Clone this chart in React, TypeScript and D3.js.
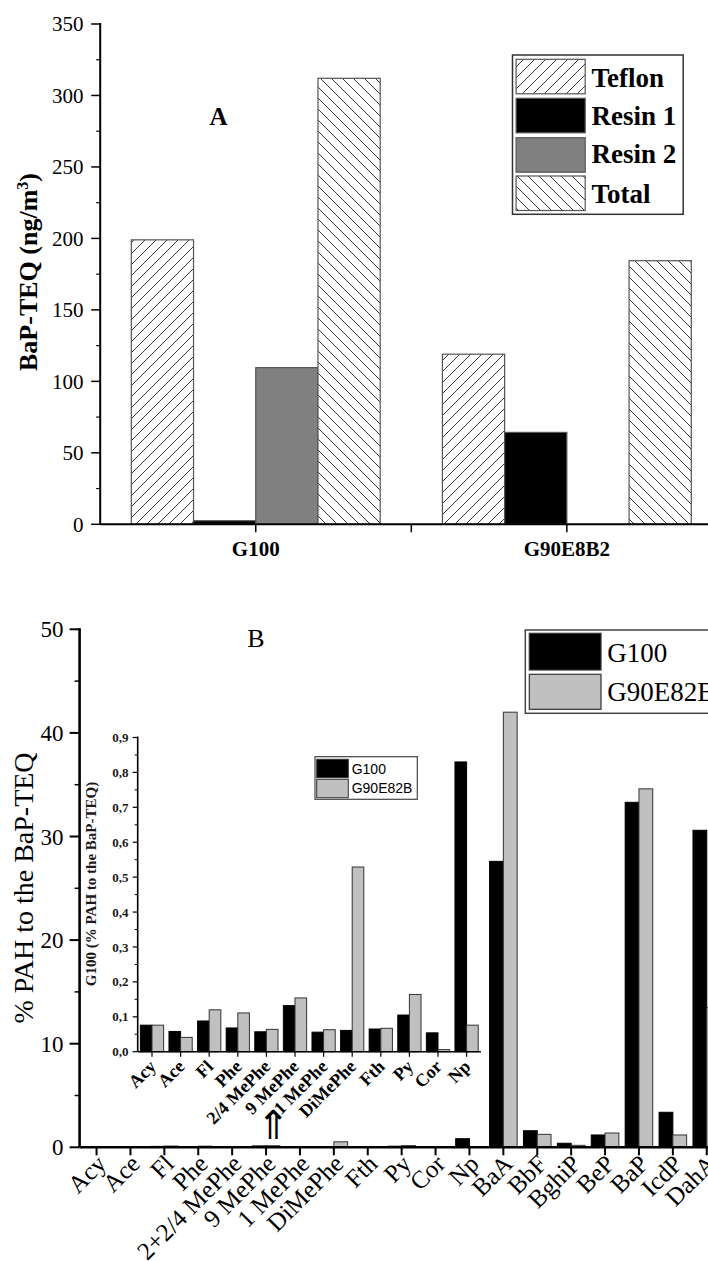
import React from 'react';
import * as d3 from 'd3';

const W = 708;
const H = 1261;
const SERIF = "'Liberation Serif', 'Times New Roman', Times, serif";
const SANS = "'Liberation Sans', Arial, sans-serif";

// ---------- Panel A data ----------
const samplesA = ['G100', 'G90E8B2'];
const seriesA = ['Teflon', 'Resin 1', 'Resin 2', 'Total'];
const teflonA = [199, 119];
const resin1A = [2.5, 64.3];
const resin2A = [109.6, 0];
const totalA = [312, 184.4];
const ticksA = [0, 50, 100, 150, 200, 250, 300, 350];
const minorTicksA = [25, 75, 125, 175, 225, 275, 325];

// ---------- Panel B data ----------
const pahCategories = ['Acy', 'Ace', 'Fl', 'Phe', '2+2/4 MePhe', '9 MePhe', '1 MePhe', 'DiMePhe', 'Fth', 'Py', 'Cor', 'Np', 'BaA', 'BbF', 'BghiP', 'BeP', 'BaP', 'IcdP', 'DahA'];
const g100Values = [0.076, 0.058, 0.088, 0.068, 0.057, 0.132, 0.056, 0.061, 0.065, 0.105, 0.054, 0.83, 27.6, 1.6, 0.39, 1.19, 33.3, 3.38, 30.6];
const g90Values = [0.076, 0.041, 0.12, 0.111, 0.064, 0.154, 0.063, 0.529, 0.067, 0.164, 0.006, 0.076, 42.0, 1.25, 0.19, 1.38, 34.6, 1.19, 13.5];
const seriesB = ['G100', 'G90E82B'];
const ticksB = [0, 10, 20, 30, 40, 50];
const minorTicksB = [5, 15, 25, 35, 45];

const insetCategories = ['Acy', 'Ace', 'Fl', 'Phe', '2/4 MePhe', '9 MePhe', '1 MePhe', 'DiMePhe', 'Fth', 'Py', 'Cor', 'Np'];
const insetTicks = [0, 0.1, 0.2, 0.3, 0.4, 0.5, 0.6, 0.7, 0.8, 0.9];
const insetMinorTicks = [0.05, 0.15, 0.25, 0.35, 0.45, 0.55, 0.65, 0.75, 0.85];

export default function App() {
  // ----- Panel A scales -----
  const yA = d3.scaleLinear().domain([0, 350]).range([524.3, 24]);
  const xA = d3.scaleBand<string>().domain(samplesA).range([100.2, 722.4]).padding(0);
  const xsA = d3.scaleBand<string>().domain(seriesA).range([0, xA.bandwidth()]).paddingInner(0).paddingOuter(0.5);
  const valuesA = [teflonA, resin1A, resin2A, totalA];
  const fillsA = ['url(#hatchFwd)', '#000', '#808080', 'url(#hatchBack)'];

  // ----- Panel B scales -----
  const yB = d3.scaleLinear().domain([0, 50]).range([1147.3, 629.3]);
  const xB = d3.scaleBand<string>().domain(pahCategories).range([79.6, 79.6 + 19 * 33.9]).padding(0);
  const xsB = d3.scaleBand<string>().domain(seriesB).range([0, xB.bandwidth()]).paddingInner(0).paddingOuter(0.23);
  const valuesB = [g100Values, g90Values];
  const fillsB = ['#000', '#c0c0c0'];

  // ----- Inset scales -----
  const yI = d3.scaleLinear().domain([0, 0.9]).range([1051.7, 737.5]);
  const xI = d3.scaleBand<string>().domain(insetCategories).range([137.7, 137.7 + 12 * 28.6]).padding(0);
  const xsI = d3.scaleBand<string>().domain(seriesB).range([0, xI.bandwidth()]).paddingInner(0).paddingOuter(0.23);
  const fmtI = (d: number) => d3.format('.1f')(d).replace('.', ',');

  const axisA = 100.2;
  const baseA = yA(0);
  const axisB = 79.6;
  const baseB = yB(0);
  const axisI = 137.7;
  const baseI = yI(0);

  return (
    <svg width={W} height={H} style={{ position: 'absolute', left: 0, top: 0, background: '#fff' }}>
      <defs>
        <pattern id="hatchFwd" patternUnits="userSpaceOnUse" width={11} height={11}>
          <rect width={11} height={11} fill="#fff" />
          <path d="M-1,1 l2,-2 M0,11 l11,-11 M10,12 l2,-2" stroke="#222" strokeWidth={0.9} />
        </pattern>
        <pattern id="hatchBack" patternUnits="userSpaceOnUse" width={11} height={11}>
          <rect width={11} height={11} fill="#fff" />
          <path d="M-1,10 l2,2 M0,0 l11,11 M10,-1 l2,2" stroke="#222" strokeWidth={0.9} />
        </pattern>
      </defs>
      <rect x={0} y={0} width={W} height={H} fill="#fff" />

      {/* ================= PANEL A ================= */}
      {valuesA.map((vals, si) =>
        vals.map((v, ci) =>
          v > 0 ? (
            <rect
              key={`a-${si}-${ci}`}
              x={(xA(samplesA[ci]) as number) + (xsA(seriesA[si]) as number)}
              y={yA(v)}
              width={xsA.bandwidth()}
              height={baseA - yA(v)}
              fill={fillsA[si]}
              stroke="#555"
              strokeWidth={1.2}
            />
          ) : null
        )
      )}
      {/* y axis A */}
      <line x1={axisA} x2={axisA} y1={yA(350) - 1} y2={baseA} stroke="#000" strokeWidth={2} />
      {ticksA.map((t) => (
        <g key={`ta-${t}`}>
          <line x1={axisA - 9} x2={axisA} y1={yA(t)} y2={yA(t)} stroke="#000" strokeWidth={1.5} />
          <text x={83.5} y={yA(t)} dy="0.35em" textAnchor="end" fontFamily={SERIF} fontSize={21} fill="#000">
            {t}
          </text>
        </g>
      ))}
      {minorTicksA.map((t) => (
        <line key={`mta-${t}`} x1={axisA - 4} x2={axisA} y1={yA(t)} y2={yA(t)} stroke="#000" strokeWidth={1.2} />
      ))}
      {/* x axis A */}
      <line x1={axisA} x2={W} y1={baseA} y2={baseA} stroke="#000" strokeWidth={2} />
      {samplesA.map((s) => (
        <g key={`xa-${s}`}>
          <line
            x1={(xA(s) as number) + xA.bandwidth() / 2}
            x2={(xA(s) as number) + xA.bandwidth() / 2}
            y1={baseA}
            y2={baseA + 8}
            stroke="#000"
            strokeWidth={1.5}
          />
          <text
            x={(xA(s) as number) + xA.bandwidth() / 2}
            y={556}
            textAnchor="middle"
            fontFamily={SERIF}
            fontWeight="bold"
            fontSize={21}
            fill="#000"
          >
            {s}
          </text>
        </g>
      ))}
      <line x1={xA(samplesA[1]) as number} x2={xA(samplesA[1]) as number} y1={baseA} y2={baseA + 8} stroke="#000" strokeWidth={1.5} />
      {/* y title A */}
      <text
        transform={`translate(37,272) rotate(-90)`}
        textAnchor="middle"
        fontFamily={SERIF}
        fontWeight="bold"
        fontSize={26}
        fill="#000"
      >
        BaP-TEQ (ng/m<tspan dy={-9} fontSize={16}>3</tspan>
        <tspan dy={9}>)</tspan>
      </text>
      {/* label A */}
      <text x={218.6} y={125} textAnchor="middle" fontFamily={SERIF} fontWeight="bold" fontSize={25} fill="#000">
        A
      </text>
      {/* legend A */}
      <rect x={512.5} y={55} width={170.7} height={159.3} fill="#fff" stroke="#333" strokeWidth={1.5} />
      {seriesA.map((s, i) => {
        const ys = [59.3, 98.3, 137.7, 176][i];
        const bl = [86.7, 125, 163.3, 202.7][i];
        return (
          <g key={`la-${s}`}>
            <rect x={516.1} y={ys} width={69.1} height={34.5} fill={fillsA[i]} stroke="#555" strokeWidth={1.2} />
            <text x={591.5} y={bl} fontFamily={SERIF} fontWeight="bold" fontSize={27} fill="#000">
              {s}
            </text>
          </g>
        );
      })}

      {/* ================= PANEL B (main) ================= */}
      {valuesB.map((vals, si) =>
        vals.map((v, ci) => (
          <rect
            key={`b-${si}-${ci}`}
            x={(xB(pahCategories[ci]) as number) + (xsB(seriesB[si]) as number)}
            y={yB(v)}
            width={xsB.bandwidth()}
            height={baseB - yB(v)}
            fill={fillsB[si]}
            stroke={si === 0 ? '#000' : '#333'}
            strokeWidth={1}
          />
        ))
      )}
      {/* y axis B */}
      <line x1={axisB} x2={axisB} y1={yB(50) - 1} y2={baseB} stroke="#000" strokeWidth={2.6} />
      {ticksB.map((t) => (
        <g key={`tb-${t}`}>
          <line x1={axisB - 10} x2={axisB} y1={yB(t)} y2={yB(t)} stroke="#000" strokeWidth={2} />
          <text x={63.5} y={yB(t)} dy="0.35em" textAnchor="end" fontFamily={SERIF} fontSize={23} fill="#000">
            {t}
          </text>
        </g>
      ))}
      {minorTicksB.map((t) => (
        <line key={`mtb-${t}`} x1={axisB - 5} x2={axisB} y1={yB(t)} y2={yB(t)} stroke="#000" strokeWidth={1.5} />
      ))}
      {/* x axis B */}
      <line x1={axisB} x2={W} y1={baseB} y2={baseB} stroke="#000" strokeWidth={2.6} />
      {pahCategories.map((c) => {
        const cx = (xB(c) as number) + xB.bandwidth() / 2;
        return (
          <g key={`xb-${c}`}>
            <line x1={cx} x2={cx} y1={baseB} y2={baseB + 8} stroke="#000" strokeWidth={2} />
            <text
              transform={`translate(${cx + 11},${baseB + 18}) rotate(-45)`}
              textAnchor="end"
              fontFamily={SERIF}
              fontSize={25}
              fill="#000"
            >
              {c}
            </text>
          </g>
        );
      })}
      {/* y title B */}
      <text transform={`translate(33,888) rotate(-90)`} textAnchor="middle" fontFamily={SERIF} fontSize={28} fill="#000">
        % PAH to the BaP-TEQ
      </text>
      {/* label B */}
      <text x={256} y={647.3} textAnchor="middle" fontFamily={SERIF} fontSize={26} fill="#000">
        B
      </text>
      {/* legend B */}
      <rect x={525.3} y={630} width={220} height={83.3} fill="#fff" stroke="#444" strokeWidth={1.5} />
      {seriesB.map((s, i) => (
        <g key={`lb-${s}`}>
          <rect x={529.3} y={[633.3, 674.3][i]} width={71.7} height={[36.7, 35][i]} fill={fillsB[i]} stroke="#333" strokeWidth={1.2} />
          <text x={607.3} y={[661.7, 700.7][i]} fontFamily={SERIF} fontSize={27} fill="#000">
            {s}
          </text>
        </g>
      ))}

      {/* ================= INSET ================= */}
      {valuesB.map((vals, si) =>
        insetCategories.map((c, ci) => (
          <rect
            key={`i-${si}-${ci}`}
            x={(xI(c) as number) + (xsI(seriesB[si]) as number)}
            y={yI(vals[ci])}
            width={xsI.bandwidth()}
            height={baseI - yI(vals[ci])}
            fill={fillsB[si]}
            stroke={si === 0 ? '#000' : '#333'}
            strokeWidth={1}
          />
        ))
      )}
      <line x1={axisI} x2={axisI} y1={yI(0.9) - 1} y2={baseI} stroke="#000" strokeWidth={1.6} />
      {insetTicks.map((t) => (
        <g key={`ti-${t}`}>
          <line x1={axisI - 5} x2={axisI} y1={yI(t)} y2={yI(t)} stroke="#000" strokeWidth={1.2} />
          <text x={128.5} y={yI(t)} dy="0.35em" textAnchor="end" fontFamily={SERIF} fontWeight="bold" fontSize={13} fill="#1a1a1a">
            {fmtI(t)}
          </text>
        </g>
      ))}
      {insetMinorTicks.map((t) => (
        <line key={`mti-${t}`} x1={axisI - 3} x2={axisI} y1={yI(t)} y2={yI(t)} stroke="#000" strokeWidth={1} />
      ))}
      <line x1={axisI} x2={xI.range()[1]} y1={baseI} y2={baseI} stroke="#000" strokeWidth={1.6} />
      {insetCategories.map((c) => {
        const cx = (xI(c) as number) + xI.bandwidth() / 2;
        return (
          <g key={`xi-${c}`}>
            <line x1={cx} x2={cx} y1={baseI} y2={baseI + 5} stroke="#000" strokeWidth={1.2} />
            <text
              transform={`translate(${cx + 5},${baseI + 16}) rotate(-45)`}
              textAnchor="end"
              fontFamily={SERIF}
              fontWeight="bold"
              fontSize={18}
              fill="#000"
            >
              {c}
            </text>
          </g>
        );
      })}
      <text transform={`translate(96,884) rotate(-90)`} textAnchor="middle" fontFamily={SERIF} fontWeight="bold" fontSize={15} fill="#1a1a1a">
        G100 (% PAH to the BaP-TEQ)
      </text>
      <text x={273} y={1139} textAnchor="middle" fontFamily="'DejaVu Sans', sans-serif" fontSize={40} fill="#000">
        ⇑
      </text>
      {/* inset legend */}
      <rect x={315} y={756.7} width={102.3} height={42.6} fill="#fff" stroke="#444" strokeWidth={1.2} />
      {seriesB.map((s, i) => (
        <g key={`li-${s}`}>
          <rect x={316.7} y={[759.3, 779.3][i]} width={31.6} height={18.4} fill={fillsB[i]} stroke="#333" strokeWidth={1} />
          <text x={351.7} y={[774.3, 793.3][i]} fontFamily={SANS} fontSize={14} fill="#000">
            {s}
          </text>
        </g>
      ))}
    </svg>
  );
}
